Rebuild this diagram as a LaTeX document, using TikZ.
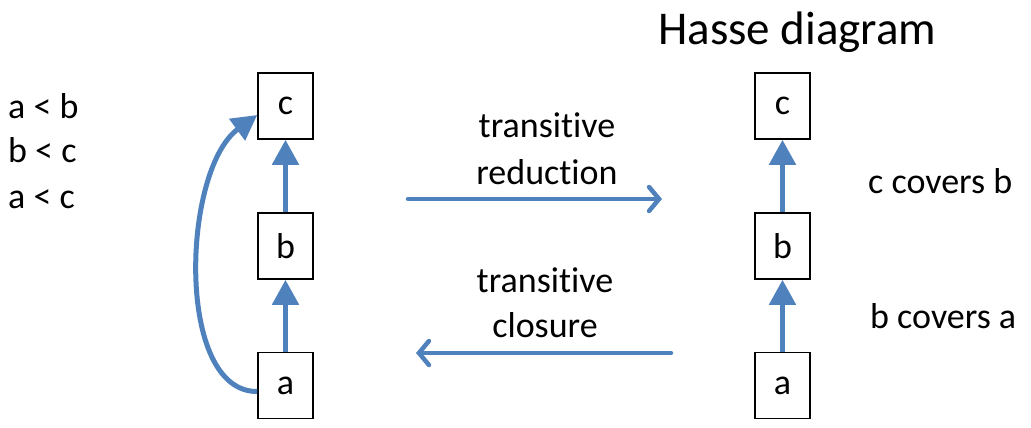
\documentclass[tikz,border=0pt]{standalone}
\usepackage{fontspec}
\setmainfont{Carlito}[Ligatures={NoCommon}]
\usetikzlibrary{arrows.meta,calc}
\definecolor{arrblue}{RGB}{79,129,189}
\tikzset{
  elem/.style={draw=black,line width=1.6pt,minimum width=55pt,minimum height=66pt,inner sep=0pt,font=\fontsize{36}{42}\selectfont},
  txt/.style={anchor=base west,inner sep=0pt,font=\fontsize{36}{42}\selectfont},
  ctxt/.style={anchor=base,inner sep=0pt,font=\fontsize{36}{42}\selectfont},
  cover/.style={draw=arrblue,line width=5pt,-{Triangle[width=26pt,length=25pt]}},
  maparrow/.style={draw=arrblue,line width=4.5pt,line cap=round,-{Straight Barb[length=10pt,width=24pt,line cap=round]}}
}
\begin{document}
\begin{tikzpicture}[x=1pt,y=-1pt]
\useasboundingbox (0,0) rectangle (1031,428);
% left diagram
\node[elem] (lc) at (285.5,106) {c};
\node[elem] (lb) at (285.5,246) {b};
\node[elem] (la) at (285.5,385.5) {a};
\draw[cover] (lb.north) -- (lc.south);
\draw[cover] (la.north) -- (lb.south);
\draw[cover] ($(la.west)+(0,6)$) .. controls (175,392) and (182,170) .. ($(lc.west)+(0,9)$);
% right diagram
\node[elem] (rc) at (782.5,106) {c};
\node[elem] (rb) at (782.5,246) {b};
\node[elem] (ra) at (782.5,385.5) {a};
\draw[cover] (rb.north) -- (rc.south);
\draw[cover] (ra.north) -- (rb.south);
% relations
\node[txt] (r1) at (8,118) {a < b};
\node[txt] (r2) at (8,162) {b < c};
\node[txt] (r3) at (8,208) {a < c};
% map arrows
\coordinate (t1) at (408,199);
\coordinate (t2) at (662,199);
\coordinate (u1) at (671,353);
\coordinate (u2) at (416,353);
\draw[maparrow] (t1) -- (t2);
\draw[maparrow] (u1) -- (u2);
\node[ctxt] (tr1) at (547,137) {transit\kern0pt ive};
\node[ctxt] (tr2) at (547,184) {reduct\kern0pt ion};
\node[ctxt] (tc1) at (545,292) {transit\kern0pt ive};
\node[ctxt] (tc2) at (545,337) {closure};
% right labels
\node[txt] (cb) at (868,193) {c covers b};
\node[txt] (ba) at (870,328) {b covers a};
\node[txt,font=\fontsize{47}{54}\selectfont] (title) at (658,45) {Hasse diagram};
\end{tikzpicture}
\end{document}
